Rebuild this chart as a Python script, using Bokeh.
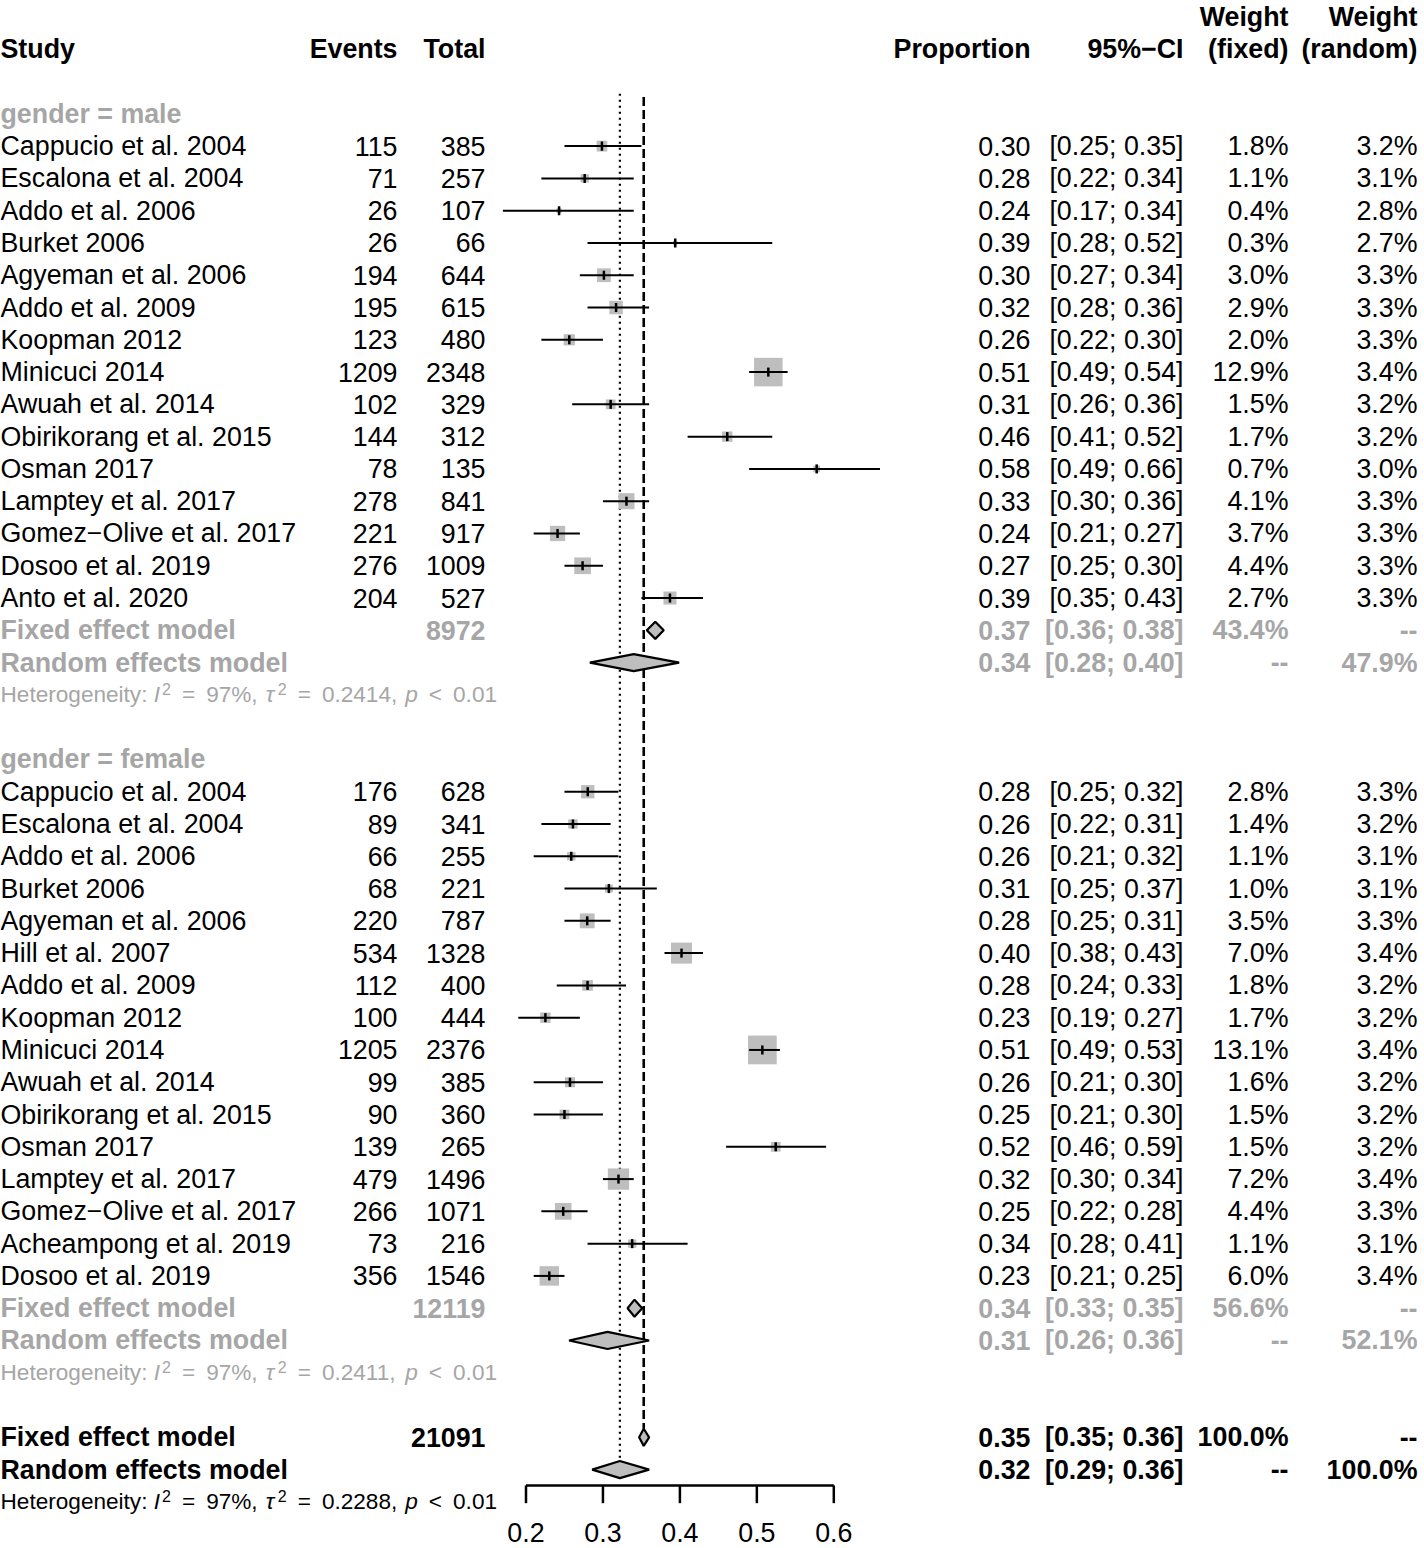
import math
from collections import defaultdict
from bokeh.plotting import figure
from bokeh.models import Range1d
from bokeh.core.properties import value
from bokeh.embed import file_html
from bokeh.resources import INLINE

# ---------------- data ----------------
male_study = ["Cappucio et al. 2004", "Escalona et al. 2004", "Addo et al. 2006", "Burket 2006",
              "Agyeman et al. 2006", "Addo et al. 2009", "Koopman 2012", "Minicuci 2014",
              "Awuah et al. 2014", "Obirikorang et al. 2015", "Osman 2017", "Lamptey et al. 2017",
              "Gomez\u2212Olive et al. 2017", "Dosoo et al. 2019", "Anto et al. 2020"]
male_events = [115, 71, 26, 26, 194, 195, 123, 1209, 102, 144, 78, 278, 221, 276, 204]
male_total = [385, 257, 107, 66, 644, 615, 480, 2348, 329, 312, 135, 841, 917, 1009, 527]
male_lower = [0.25, 0.22, 0.17, 0.28, 0.27, 0.28, 0.22, 0.49, 0.26, 0.41, 0.49, 0.30, 0.21, 0.25, 0.35]
male_upper = [0.35, 0.34, 0.34, 0.52, 0.34, 0.36, 0.30, 0.54, 0.36, 0.52, 0.66, 0.36, 0.27, 0.30, 0.43]
male_w_fixed = [1.8, 1.1, 0.4, 0.3, 3.0, 2.9, 2.0, 12.9, 1.5, 1.7, 0.7, 4.1, 3.7, 4.4, 2.7]
male_w_random = [3.2, 3.1, 2.8, 2.7, 3.3, 3.3, 3.3, 3.4, 3.2, 3.2, 3.0, 3.3, 3.3, 3.3, 3.3]
male_fixed = [0.368, 0.357, 0.379]      # estimate, lower, upper
male_random = [0.340, 0.283, 0.399]
male_fixed_weight = 43.4
male_random_weight = 47.9
male_het = ["97%", "0.2414", "0.01"]

female_study = ["Cappucio et al. 2004", "Escalona et al. 2004", "Addo et al. 2006", "Burket 2006",
                "Agyeman et al. 2006", "Hill et al. 2007", "Addo et al. 2009", "Koopman 2012",
                "Minicuci 2014", "Awuah et al. 2014", "Obirikorang et al. 2015", "Osman 2017",
                "Lamptey et al. 2017", "Gomez\u2212Olive et al. 2017", "Acheampong et al. 2019",
                "Dosoo et al. 2019"]
female_events = [176, 89, 66, 68, 220, 534, 112, 100, 1205, 99, 90, 139, 479, 266, 73, 356]
female_total = [628, 341, 255, 221, 787, 1328, 400, 444, 2376, 385, 360, 265, 1496, 1071, 216, 1546]
female_lower = [0.25, 0.22, 0.21, 0.25, 0.25, 0.38, 0.24, 0.19, 0.49, 0.21, 0.21, 0.46, 0.30, 0.22, 0.28, 0.21]
female_upper = [0.32, 0.31, 0.32, 0.37, 0.31, 0.43, 0.33, 0.27, 0.53, 0.30, 0.30, 0.59, 0.34, 0.28, 0.41, 0.25]
female_w_fixed = [2.8, 1.4, 1.1, 1.0, 3.5, 7.0, 1.8, 1.7, 13.1, 1.6, 1.5, 1.5, 7.2, 4.4, 1.1, 6.0]
female_w_random = [3.3, 3.2, 3.1, 3.1, 3.3, 3.4, 3.2, 3.2, 3.4, 3.2, 3.2, 3.2, 3.4, 3.3, 3.1, 3.4]
female_fixed = [0.341, 0.332, 0.351]
female_random = [0.306, 0.256, 0.360]
female_fixed_weight = 56.6
female_random_weight = 52.1
female_het = ["97%", "0.2411", "0.01"]

overall_fixed = [0.353, 0.347, 0.360]
overall_random = [0.322, 0.286, 0.360]
overall_fixed_weight = 100.0
overall_random_weight = 100.0
overall_het = ["97%", "0.2288", "0.01"]

tick_values = [0.2, 0.3, 0.4, 0.5, 0.6]
tick_labels = ["0.2", "0.3", "0.4", "0.5", "0.6"]

# ---------------- layout ----------------
FONT = "Liberation Sans"
GRAY = "#A6A6A6"
SQ_FILL = "#BEBEBE"
W, H = 1424, 1548
PPU = 769.5                      # screen px per proportion unit
X0 = 0.2 - 525.5 / PPU
RPX = 32.28                      # screen px per row
TOP = -1 - 16.5 / RPX
FS = 26.8                        # main font size
HS = 22.6                        # heterogeneity font size
SUPS = 16.0
EM_SHIFT = 0.36                  # rendered baseline sits this many em below the anchor


def FX(px):
    return X0 + px / PPU


C_STUDY, C_EV, C_TOT = FX(0), FX(397), FX(485)
C_PROP, C_CI, C_WF, C_WR = FX(1030), FX(1183), FX(1288), FX(1417)

p = figure(width=W, height=H, output_backend="svg", toolbar_location=None,
           x_range=Range1d(X0, X0 + W / PPU), y_range=Range1d(TOP + H / RPX, TOP),
           x_axis_location=None, y_axis_location=None, min_border=0)
p.grid.visible = False
p.outline_line_color = None
p.background_fill_color = "white"
p.border_fill_color = "white"

texts = defaultdict(lambda: {"x": [], "y": [], "text": []})


def put(x, y, t, align="right", style="normal", color="black", size=FS):
    d = texts[(align, style, color, size)]
    d["x"].append(x)
    d["y"].append(y)
    d["text"].append(t)


def fmt_ci(lo, hi):
    return f"[{lo:.2f}; {hi:.2f}]"


# header
put(C_WF, -1, "Weight", style="bold")
put(C_WR, -1, "Weight", style="bold")
put(C_STUDY, 0, "Study", align="left", style="bold")
for cx, t in [(C_EV, "Events"), (C_TOT, "Total"), (C_PROP, "Proportion"), (C_CI, "95%\u2212CI"),
              (C_WF, "(fixed)"), (C_WR, "(random)")]:
    put(cx, 0, t, style="bold")

sq_x, sq_y, sq_s = [], [], []
ci_x0, ci_x1, ci_y = [], [], []
dia_xs, dia_ys = [], []
DH = 0.265


def diamond(est, lo, hi, row):
    dia_xs.append([lo, est, hi, est])
    dia_ys.append([row, row - DH, row, row + DH])


def het_line(row, vals, color):
    i2, tau2, pv = vals
    pieces = [("Heterogeneity: ", "normal", False, 0), ("I", "italic", False, 0),
              ("2", "normal", True, 2), ("=", "normal", False, 11), (i2 + ",", "normal", False, 11),
              ("\u03c4", "italic", False, 8), ("2", "normal", True, 2), ("=", "normal", False, 11),
              (tau2 + ",", "normal", False, 11), ("p", "italic", False, 8), ("<", "normal", False, 11),
              (pv, "normal", False, 11)]
    wid = {'H': 722, 'e': 556, 't': 278, 'r': 333, 'o': 556, 'g': 556, 'n': 556, 'i': 222, 'y': 500,
           ':': 278, ' ': 278, '=': 584, '%': 889, ',': 278, '.': 278, '<': 584, 'p': 556, 'I': 278,
           '\u03c4': 450}
    cur = 0.0
    base_px = 0.358 * HS - 0.5           # main baseline below row centre (px)
    for t, st, sup, gap in pieces:
        cur += gap
        size = SUPS if sup else HS
        bl = base_px - (7.5 if sup else 0)
        y = row + (bl - EM_SHIFT * size) / RPX
        put(FX(cur), y, t, align="left", style=st, color=color, size=size)
        cur += sum(wid.get(c, 556) for c in t) / 1000 * size


def group(label, first_row, study, events, total, lower, upper, wf, wr,
          fixed, random, fw, rw, het):
    put(C_STUDY, first_row, label, align="left", style="bold", color=GRAY)
    r = first_row + 1
    for i in range(len(study)):
        est = events[i] / total[i]
        put(C_STUDY, r, study[i], align="left")
        put(C_EV, r, str(events[i]))
        put(C_TOT, r, str(total[i]))
        put(C_PROP, r, f"{est:.2f}")
        put(C_CI, r, fmt_ci(lower[i], upper[i]))
        put(C_WF, r, f"{wf[i]:.1f}%")
        put(C_WR, r, f"{wr[i]:.1f}%")
        sq_x.append(est)
        sq_y.append(r)
        sq_s.append(7.94 * math.sqrt(wf[i]))
        ci_x0.append(lower[i])
        ci_x1.append(upper[i])
        ci_y.append(r)
        r += 1
    put(C_STUDY, r, "Fixed effect model", align="left", style="bold", color=GRAY)
    put(C_TOT, r, str(sum(total)), style="bold", color=GRAY)
    put(C_PROP, r, f"{fixed[0]:.2f}", style="bold", color=GRAY)
    put(C_CI, r, fmt_ci(fixed[1], fixed[2]), style="bold", color=GRAY)
    put(C_WF, r, f"{fw:.1f}%", style="bold", color=GRAY)
    put(C_WR, r, "--", style="bold", color=GRAY)
    diamond(fixed[0], fixed[1], fixed[2], r)
    r += 1
    put(C_STUDY, r, "Random effects model", align="left", style="bold", color=GRAY)
    put(C_PROP, r, f"{random[0]:.2f}", style="bold", color=GRAY)
    put(C_CI, r, fmt_ci(random[1], random[2]), style="bold", color=GRAY)
    put(C_WF, r, "--", style="bold", color=GRAY)
    put(C_WR, r, f"{rw:.1f}%", style="bold", color=GRAY)
    diamond(random[0], random[1], random[2], r)
    r += 1
    het_line(r, het, GRAY)
    return r + 2


nxt = group("gender = male", 2, male_study, male_events, male_total, male_lower, male_upper,
            male_w_fixed, male_w_random, male_fixed, male_random, male_fixed_weight,
            male_random_weight, male_het)
nxt = group("gender = female", nxt, female_study, female_events, female_total, female_lower,
            female_upper, female_w_fixed, female_w_random, female_fixed, female_random,
            female_fixed_weight, female_random_weight, female_het)

# overall
r_of = nxt
put(C_STUDY, r_of, "Fixed effect model", align="left", style="bold")
put(C_TOT, r_of, str(sum(male_total) + sum(female_total)), style="bold")
put(C_PROP, r_of, f"{overall_fixed[0]:.2f}", style="bold")
put(C_CI, r_of, fmt_ci(overall_fixed[1], overall_fixed[2]), style="bold")
put(C_WF, r_of, f"{overall_fixed_weight:.1f}%", style="bold")
put(C_WR, r_of, "--", style="bold")
diamond(overall_fixed[0], overall_fixed[1], overall_fixed[2], r_of)
r_or = r_of + 1
put(C_STUDY, r_or, "Random effects model", align="left", style="bold")
put(C_PROP, r_or, f"{overall_random[0]:.2f}", style="bold")
put(C_CI, r_or, fmt_ci(overall_random[1], overall_random[2]), style="bold")
put(C_WF, r_or, "--", style="bold")
put(C_WR, r_or, f"{overall_random_weight:.1f}%", style="bold")
diamond(overall_random[0], overall_random[1], overall_random[2], r_or)
het_line(r_or + 1, overall_het, "black")

# reference lines
p.segment(x0=[overall_fixed[0]], y0=[1.48], x1=[overall_fixed[0]], y1=[r_of - DH],
          line_color="black", line_width=2.6, line_dash="9 4")
p.segment(x0=[overall_random[0]], y0=[1.38], x1=[overall_random[0]], y1=[r_or - DH],
          line_color="black", line_width=2.2, line_dash="2 4")

# squares, CIs, point marks
p.scatter(x=sq_x, y=sq_y, size=sq_s, marker="square", fill_color=SQ_FILL, line_color=None)
p.segment(x0=ci_x0, y0=ci_y, x1=ci_x1, y1=ci_y, line_color="black", line_width=2)
p.segment(x0=sq_x, y0=[v - 0.14 for v in sq_y], x1=sq_x, y1=[v + 0.14 for v in sq_y],
          line_color="black", line_width=2.5)

# diamonds
p.patches(xs=dia_xs, ys=dia_ys, fill_color=SQ_FILL, line_color="black", line_width=2.2)

# axis
AX_Y = 44.49
p.segment(x0=[tick_values[0]], y0=[AX_Y], x1=[tick_values[-1]], y1=[AX_Y],
          line_color="black", line_width=2.5)
p.segment(x0=tick_values, y0=[AX_Y] * len(tick_values), x1=tick_values,
          y1=[AX_Y + 0.55] * len(tick_values), line_color="black", line_width=2.5)
for tv, tl in zip(tick_values, tick_labels):
    put(tv, 45.96, tl, align="center")

for (align, style, color, size), d in texts.items():
    p.text(x=d["x"], y=d["y"], text=d["text"], text_align=align, text_baseline="alphabetic",
           text_font=value(FONT), text_font_style=style, text_color=color,
           text_font_size=value(f"{size}px"))

open("out.html", "w").write(file_html(p, INLINE))
